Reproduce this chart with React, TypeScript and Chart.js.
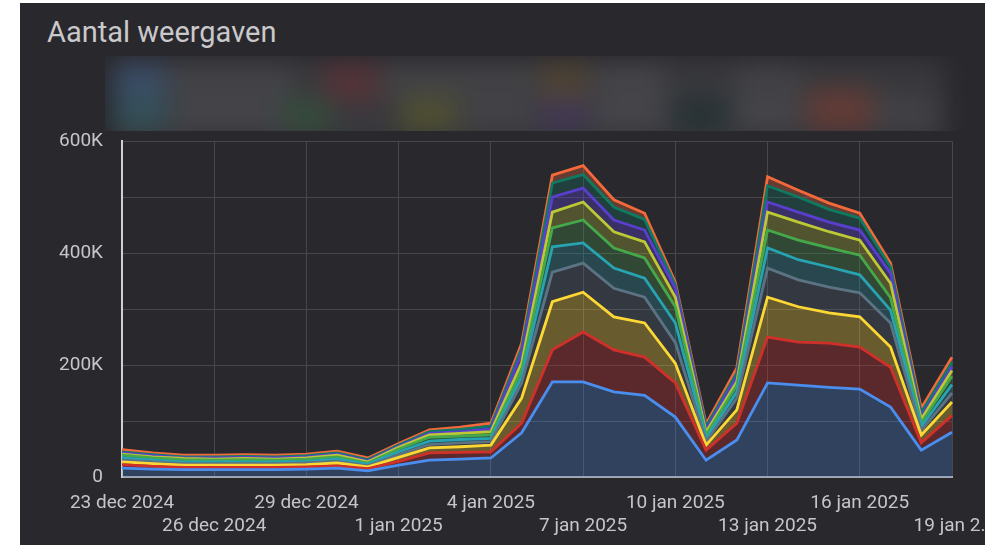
import React, { useEffect, useRef } from 'react';
import { Chart, registerables } from 'chart.js';

Chart.register(...registerables);

// Dates (one point per day)
const dates = [
  '23 dec 2024', '24 dec 2024', '25 dec 2024', '26 dec 2024', '27 dec 2024', '28 dec 2024', '29 dec 2024',
  '30 dec 2024', '31 dec 2024', '1 jan 2025', '2 jan 2025', '3 jan 2025', '4 jan 2025', '5 jan 2025',
  '6 jan 2025', '7 jan 2025', '8 jan 2025', '9 jan 2025', '10 jan 2025', '11 jan 2025', '12 jan 2025',
  '13 jan 2025', '14 jan 2025', '15 jan 2025', '16 jan 2025', '17 jan 2025', '18 jan 2025', '19 jan 2025',
];

// Tick labels shown every 3 days (alternating rows)
const tickLabels = [
  '23 dec 2024', '26 dec 2024', '29 dec 2024', '1 jan 2025', '4 jan 2025',
  '7 jan 2025', '10 jan 2025', '13 jan 2025', '16 jan 2025', '19 jan 2..',
];

const yTickValues = [0, 200, 400, 600];

// Series values (views, in thousands), bottom of stack first
const serie1 = [16, 14, 13, 13, 13, 13, 14, 16, 11, 21, 30, 32, 34, 79, 170, 170, 152, 146, 107, 30, 66, 168, 164, 160, 157, 125, 48, 80];
const serie2 = [6, 5, 4, 4, 4, 4, 4, 4, 4, 7, 13, 12, 11, 17, 57, 89, 75, 68, 61, 18, 30, 82, 77, 79, 75, 71, 13, 30];
const serie3 = [5, 5, 4, 4, 4, 4, 4, 5, 3, 7, 9, 10, 12, 45, 86, 71, 59, 61, 35, 9, 24, 71, 63, 54, 54, 36, 14, 24];
const serie4 = [3, 3, 3, 3, 3, 3, 3, 3, 2, 5, 6, 7, 6, 27, 53, 52, 51, 46, 37, 6, 21, 52, 48, 46, 43, 43, 8, 16];
const serie5 = [4, 3, 3, 3, 3, 3, 3, 4, 3, 5, 6, 6, 6, 11, 45, 36, 36, 34, 35, 6, 11, 36, 36, 36, 32, 23, 7, 15];
const serie6 = [5, 4, 4, 3, 4, 3, 4, 4, 2, 5, 7, 6, 6, 12, 34, 41, 36, 36, 29, 6, 12, 32, 35, 34, 35, 22, 7, 15];
const serie7 = [2, 2, 2, 2, 2, 2, 2, 3, 2, 3, 4, 5, 6, 13, 28, 32, 29, 29, 17, 5, 6, 32, 32, 29, 27, 26, 6, 10];
const serie8 = [2, 2, 1, 2, 2, 2, 2, 2, 2, 2, 3, 3, 5, 17, 27, 25, 21, 21, 16, 5, 9, 18, 18, 17, 18, 18, 5, 7];
const serie9 = [2, 2, 2, 2, 2, 2, 2, 2, 2, 2, 3, 4, 5, 9, 25, 24, 23, 19, 6, 5, 7, 29, 27, 23, 21, 11, 7, 8];
const serie10 = [4, 3, 3, 3, 3, 3, 3, 3, 3, 3, 3, 4, 5, 9, 14, 16, 13, 11, 5, 5, 9, 16, 12, 11, 9, 7, 8, 9];

const seriesList = [serie1, serie2, serie3, serie4, serie5, serie6, serie7, serie8, serie9, serie10];
const seriesColors = [
  '#4a8ff0', '#d0302a', '#fdd835', '#5b7383', '#27a3b2',
  '#45a84a', '#bcc935', '#5a3fcf', '#0f7a62', '#f4693a',
];
const fillAlpha = [0.26, 0.3, 0.3, 0.22, 0.26, 0.26, 0.28, 0.35, 0.3, 0.3];

const PANEL_BG = '#29282d';
const GRID = '#47474c';
const TEXT = '#c6c6c9';

function hexToRgba(hex: string, a: number) {
  const n = parseInt(hex.slice(1), 16);
  return `rgba(${(n >> 16) & 255},${(n >> 8) & 255},${n & 255},${a})`;
}

// blurred legend blobs: [x, y, w, h, color]
const legendBlobs: [number, number, number, number, string][] = [
  [113, 62, 54, 34, 'rgba(60,85,120,0.7)'],
  [113, 96, 54, 34, 'rgba(50,90,100,0.7)'],
  [172, 66, 120, 26, 'rgba(80,80,84,0.6)'],
  [172, 100, 110, 24, 'rgba(82,82,86,0.6)'],
  [283, 98, 48, 32, 'rgba(50,85,60,0.7)'],
  [323, 62, 57, 38, 'rgba(95,50,55,0.7)'],
  [385, 66, 150, 26, 'rgba(78,78,82,0.55)'],
  [400, 96, 57, 34, 'rgba(90,90,45,0.7)'],
  [462, 100, 70, 24, 'rgba(80,80,84,0.55)'],
  [540, 60, 48, 38, 'rgba(88,72,50,0.7)'],
  [540, 98, 48, 32, 'rgba(70,55,95,0.7)'],
  [595, 66, 70, 26, 'rgba(82,82,86,0.6)'],
  [595, 100, 70, 24, 'rgba(84,84,88,0.6)'],
  [673, 96, 57, 34, 'rgba(38,50,52,0.9)'],
  [735, 66, 65, 26, 'rgba(80,80,84,0.5)'],
  [735, 100, 65, 24, 'rgba(84,84,88,0.6)'],
  [807, 88, 66, 42, 'rgba(115,60,50,0.7)'],
  [875, 100, 65, 24, 'rgba(80,80,84,0.5)'],
];

function ChartCanvas() {
  const ref = useRef<HTMLCanvasElement | null>(null);
  useEffect(() => {
    if (!ref.current) return;
    Chart.defaults.font.family = 'Roboto';
    const chart = new Chart(ref.current, {
      type: 'line',
      data: {
        labels: dates,
        datasets: seriesList.map((s, i) => ({
          label: `Serie ${i + 1}`,
          data: s,
          borderColor: seriesColors[i],
          backgroundColor: hexToRgba(seriesColors[i], fillAlpha[i]),
          borderWidth: 2.8,
          pointRadius: 0,
          tension: 0,
          fill: i === 0 ? 'origin' : '-1',
        })),
      },
      options: {
        animation: false,
        responsive: true,
        maintainAspectRatio: false,
        layout: { padding: { top: 138, left: 19, right: 58, bottom: 0 } },
        plugins: { legend: { display: false }, tooltip: { enabled: false } },
        scales: {
          x: {
            grid: {
              color: (ctx: any) => (ctx.index % 3 === 0 ? GRID : 'rgba(0,0,0,0)'),
              drawTicks: false,
            },
            border: { display: true, color: '#a9a9ad', width: 2 },
            afterFit: (scale: any) => { scale.height = 68; },
            ticks: {
              autoSkip: false,
              maxRotation: 0,
              minRotation: 0,
              padding: 14,
              color: TEXT,
              font: { size: 19, family: 'Roboto', lineHeight: 1.25 },
              callback: (_v: any, index: number) => {
                if (index % 3 !== 0) return '';
                const k = index / 3;
                const t = tickLabels[k];
                return k % 2 === 0 ? [t, ''] : ['', t];
              },
            },
          },
          y: {
            stacked: true,
            min: 0,
            max: 600,
            grid: { color: GRID, drawTicks: false },
            border: { display: true, color: '#cfcfd2', width: 2 },
            afterFit: (scale: any) => { scale.width = 83; },
            ticks: {
              stepSize: 100,
              padding: 19,
              color: TEXT,
              font: { size: 19, family: 'Roboto' },
              callback: (v: any) => {
                const n = Number(v);
                if (!yTickValues.includes(n)) return '';
                return n === 0 ? '0' : `${n}K`;
              },
            },
          },
        },
      },
    });
    return () => chart.destroy();
  }, []);
  return (
    <div style={{ position: 'absolute', left: 0, top: 0, width: 990, height: 542 }}>
      <canvas ref={ref} />
    </div>
  );
}

export default function App() {
  return (
    <div
      style={{
        position: 'fixed',
        left: 20,
        top: 3,
        width: 965,
        height: 542,
        background: PANEL_BG,
        overflow: 'hidden',
        fontFamily: 'Roboto, sans-serif',
      }}
    >
      <div
        style={{
          position: 'absolute',
          left: 27,
          top: 15,
          fontSize: 29,
          lineHeight: '29px',
          color: '#c9c9cc',
          whiteSpace: 'nowrap',
        }}
      >
        Aantal weergaven
      </div>
      <div
        style={{
          position: 'absolute',
          left: 85,
          top: 53,
          width: 860,
          height: 75,
          overflow: 'hidden',
        }}
      >
        <div style={{ position: 'absolute', left: -20, top: -20, width: 900, height: 120, filter: 'blur(13px)' }}>
          <div style={{ position: 'absolute', left: 30, top: 24, width: 830, height: 90, background: '#39393d' }} />
          {legendBlobs.map(([x, y, w, h, c], i) => (
            <div
              key={i}
              style={{ position: 'absolute', left: x - 105 + 20, top: y - 55 + 20, width: w, height: h, background: c }}
            />
          ))}
        </div>
      </div>
      <ChartCanvas />
    </div>
  );
}
